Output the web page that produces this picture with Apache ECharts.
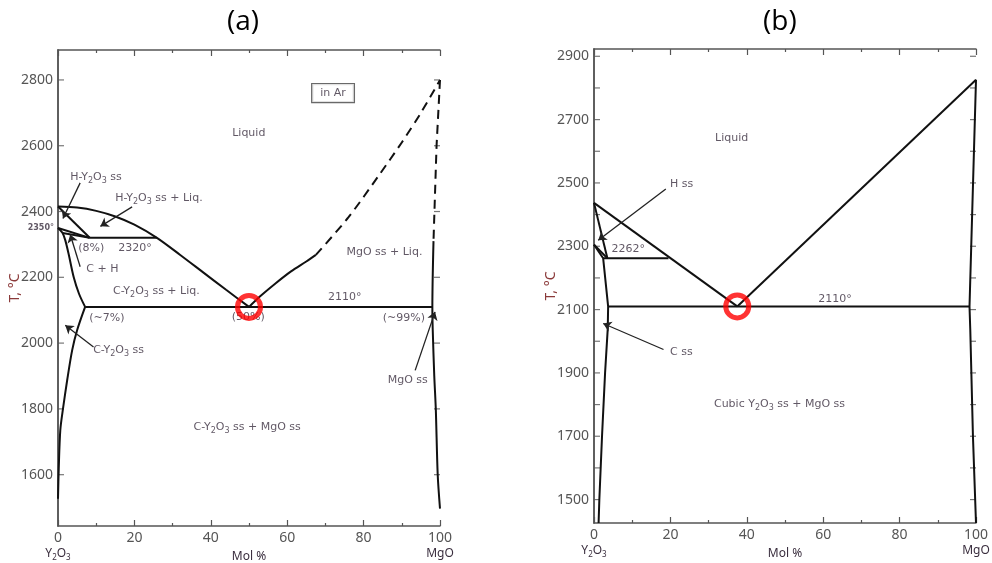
<!DOCTYPE html>
<html><head><meta charset="utf-8">
<script src="https://cdn.jsdelivr.net/npm/echarts@6/dist/echarts.min.js"></script>
<style>html,body{margin:0;padding:0;background:#fff}#c{width:992px;height:563px}</style>
</head><body><div id="c"></div>
<script>
// ---------- data: panel (a) ----------
const aYLabels = [1600,1800,2000,2200,2400,2600,2800];
const aYRange = [1444, 2891];
const aLiqLeft = [[0,2415],[5,2412],[10,2402],[15,2385],[20,2360],[25.9,2320],[32,2268],[38,2215],[44,2162],[50,2110]];
const aLiqRightSolid = [[50,2110],[53,2143],[57,2182],[61,2218],[65,2248],[67.5,2268]];
const aLiqRightDashed = [[67.5,2268],[76,2382],[84,2510],[90,2610],[95,2700],[100,2800]];
const aMgODashed = [[100,2800],[99.1,2600],[98.6,2420],[98.3,2310]];
const aMgOSolid = [[98.3,2310],[98.0,2110],[98.1,2040],[98.5,1900],[98.9,1800],[99.4,1600],[100,1497]];
const aHSolvus = [[0,2415],[8.3,2320]];
const aLine2320 = [[8.3,2320],[25.9,2320]];
const aCHUpper = [[0,2350],[8.3,2320]];
const aCHLower = [[1.2,2335],[8.3,2320]];
const aCLiq = [[0,2350],[1.2,2335],[1.9,2313],[2.8,2270],[4.1,2201],[5.5,2150],[7.1,2110]];
const aLine2110 = [[7.1,2110],[98.0,2110]];
const aCSolvus = [[7.1,2110],[5,2039],[3.7,1978],[2.4,1887],[1.3,1800],[0.6,1735],[0.2,1620],[0,1527]];
const aArrows = [
  [[5.8,2487],[1.3,2379]],
  [[19.4,2414],[11.1,2355]],
  [[5.8,2232],[3.2,2330]],
  [[9.3,1988],[1.9,2054]],
  [[93.5,1917],[98.7,2095]]
];
const aNoteText = ['Liquid','H-Y{s|2}O{s|3} ss','H-Y{s|2}O{s|3} ss + Liq.','(8%)','2320°','C + H',
  'C-Y{s|2}O{s|3} ss + Liq.','(~7%)','(50%)','2110°','(~99%)','MgO ss + Liq.','C-Y{s|2}O{s|3} ss','MgO ss',
  'C-Y{s|2}O{s|3} ss + MgO ss'];
const aNoteAt = [[45.6,2639],[3.2,2505],[15,2441],[5.3,2289],[15.8,2289],[7.4,2225],
  [14.4,2158],[8.2,2077],[45.5,2078],[70.7,2139],[85,2075],[75.5,2277],[9.2,1978],[86.3,1887],
  [35.5,1745]];
const aSideNote = {text:'2350°', at:[0,2350]};
const aBoxNote = {text:'in Ar', at:[72,2760]};
const aEutecticPoint = [50,2110];

// ---------- data: panel (b) ----------
const bYLabels = [1500,1700,1900,2100,2300,2500,2700,2900];
const bYTicks = [1500,1600,1700,1800,1900,2000,2100,2200,2300,2400,2500,2600,2700,2800,2900];
const bYRange = [1426, 2923];
const bLiqLeft = [[0,2437],[37.5,2110]];
const bLiqRight = [[37.5,2110],[100,2826]];
const bMgO = [[100,2826],[98.3,2110],[98.5,2037],[99.2,1700],[100,1426]];
const bHSolvus = [[0,2437],[3.5,2262]];
const bLine2262 = [[2.4,2262],[19.5,2262]];
const bCHUpper = [[0,2305],[3.5,2262]];
const bCSolvus = [[0,2305],[2.4,2262],[3.7,2110],[3.6,2040],[2.9,1900],[2.1,1700],[1.4,1500],[1.2,1426]];
const bLine2110 = [[3.7,2110],[98.3,2110]];
const bArrows = [
  [[18.8,2481],[1.1,2319]],
  [[18.2,1974],[2.4,2056]]
];
const bNoteText = ['Liquid','H ss','2262°','C ss','2110°','Cubic Y{s|2}O{s|3} ss + MgO ss'];
const bNoteAt = [[31.7,2643],[19.9,2495],[4.6,2290],[19.9,1965],[58.7,2134],[31.4,1800]];
const bEutecticPoint = [37.5,2110];

const xTickLabels = [0,20,40,60,80,100];
const xEdges = [0, 100];

// ---------- styles ----------
const AXIS_COLOR = '#555';
const TXT = '#3a2e3e';
const richSub = {s:{fontSize:8, padding:[7,0,0,0], color:TXT, fontFamily:'DejaVu Sans'}};

function xAxes(gridIndex){
  const base = {gridIndex, type:'value', min:0, max:100, interval:20,
    axisLine:{show:true, lineStyle:{color:AXIS_COLOR, width:1.5}},
    axisTick:{show:true, inside:true, length:6, lineStyle:{color:AXIS_COLOR, width:1.2}},
    minorTick:{show:true, splitNumber:2, length:3, lineStyle:{color:AXIS_COLOR, width:1.2}},
    splitLine:{show:false}, minorSplitLine:{show:false}};
  return [
    Object.assign({}, base, {position:'bottom', name:'Mol %', nameLocation:'middle', nameGap:25,
      nameMoveOverlap:false,
      nameTextStyle:{fontSize:12, color:TXT, fontFamily:'Noto Sans'},
      axisLabel:{margin:4, customValues:xTickLabels, formatter:function(v){
        if(v===0) return '{v|0}\n{n|Y}{s|2}{n|O}{s|3}';
        if(v===100) return '{v|100}\n{n|MgO}';
        return '{v|'+v+'}';
      }, rich:{v:{fontSize:14, color:'#555', fontFamily:'Noto Sans', lineHeight:16},
               n:{fontSize:12, color:TXT, fontFamily:'Noto Sans', lineHeight:16},
               s:{fontSize:8, color:TXT, fontFamily:'Noto Sans', padding:[7,0,0,0]}}}}),
    Object.assign({}, base, {position:'top', axisLabel:{show:false}})
  ];
}
function yAxes(gridIndex, range, labels){
  const base = {gridIndex, type:'value', min:range[0], max:range[1],
    axisLine:{show:true, lineStyle:{color:AXIS_COLOR, width:1.5}},
    axisTick:{show:false},
    splitLine:{show:false}};
  return [
    Object.assign({}, base, {position:'left', name:'T, °C', nameLocation:'middle', nameGap:36,
      nameMoveOverlap:false,
      nameTextStyle:{fontSize:14, color:'#8b3a3a', fontFamily:'Noto Sans'},
      axisLabel:{show:true, margin:5, customValues:labels, fontSize:14, color:'#555', fontFamily:'Noto Sans',
        formatter:function(v){return String(v);}}}),
    Object.assign({}, base, {position:'right', axisLabel:{show:false, customValues:labels}})
  ];
}
// inward y ticks drawn as tiny marks at both plot edges
function yTicks(xi, ticks){
  const data = [];
  ticks.forEach(function(v){ data.push({value:[xEdges[0], v], symbolOffset:[3,0]}); data.push({value:[xEdges[1], v], symbolOffset:[-3,0]}); });
  return {type:'scatter', xAxisIndex:xi, yAxisIndex:xi, data:data, symbol:'rect', symbolSize:[6,1.2],
    silent:true, clip:false, z:1, itemStyle:{color:AXIS_COLOR}};
}
function curve(xi, data, opts){
  opts = opts || {};
  return {type:'line', xAxisIndex:xi, yAxisIndex:xi, data:data, symbol:'none', silent:true,
    smooth: opts.smooth || false, clip:false, z:2,
    lineStyle:{color:'#111', width:2, type: opts.dashed ? [9,6] : 'solid'}};
}
function arrows(xi, list){
  return {type:'lines', coordinateSystem:'cartesian2d', xAxisIndex:xi, yAxisIndex:xi, silent:true, z:3,
    symbol:['none','arrow'], symbolSize:8,
    lineStyle:{color:'#222', width:1.3, opacity:1},
    data:list.map(function(a){return {coords:a};})};
}
function notes(xi, texts, at){
  return {type:'scatter', xAxisIndex:xi, yAxisIndex:xi, symbolSize:0, silent:true, clip:false, z:4,
    data: texts.map(function(t,i){return {value:at[i], name:t};}),
    label:{show:true, position:'right', distance:0, formatter:function(p){return p.name;},
      fontFamily:'DejaVu Sans', fontSize:11, color:TXT, rich:richSub}};
}
function circle(xi, pt){
  return {type:'scatter', xAxisIndex:xi, yAxisIndex:xi, data:[pt], symbol:'circle', symbolSize:23, silent:true, z:10,
    itemStyle:{color:'rgba(0,0,0,0)', borderColor:'#ff0000', borderWidth:5}};
}

const chart = echarts.init(document.getElementById('c'), null, {renderer:'canvas'});
chart.setOption({
  animation:false,
  backgroundColor:'#fff',
  grid:[
    {left:58, top:50, width:382, height:476, containLabel:false, outerBoundsMode:'none'},
    {left:594, top:49, width:382, height:474, containLabel:false, outerBoundsMode:'none'}
  ],
  xAxis: xAxes(0).concat(xAxes(1)),
  yAxis: yAxes(0, aYRange, aYLabels).concat(yAxes(1, bYRange, bYLabels)),
  graphic:[
    {type:'text', left:227, top:8, style:{text:'(a)', font:'28px "Open Sans"', fill:'#000'}},
    {type:'text', left:763, top:8, style:{text:'(b)', font:'28px "Open Sans"', fill:'#000'}}
  ],
  series:[
    yTicks(0, aYLabels),
    curve(0, aLiqLeft, {smooth:0.3}),
    curve(0, aLiqRightSolid, {smooth:0.3}),
    curve(0, aLiqRightDashed, {smooth:0.3, dashed:true}),
    curve(0, aMgODashed, {dashed:true}),
    curve(0, aMgOSolid, {smooth:0.3}),
    curve(0, aHSolvus),
    curve(0, aLine2320),
    curve(0, aCHUpper),
    curve(0, aCHLower),
    curve(0, aCLiq, {smooth:0.3}),
    curve(0, aLine2110),
    curve(0, aCSolvus, {smooth:0.3}),
    arrows(0, aArrows),
    notes(0, aNoteText, aNoteAt),
    {type:'scatter', xAxisIndex:0, yAxisIndex:0, symbolSize:0, silent:true, clip:false, z:4,
      data:[{value:aSideNote.at, name:aSideNote.text}],
      label:{show:true, position:'left', distance:4, formatter:function(p){return p.name;},
        fontFamily:'DejaVu Sans', fontSize:8, fontWeight:'bold', color:TXT}},
    {type:'scatter', xAxisIndex:0, yAxisIndex:0, symbolSize:0, silent:true, clip:false, z:4,
      data:[{value:aBoxNote.at, name:aBoxNote.text}],
      label:{show:true, position:'inside', formatter:function(p){return p.name;},
        fontFamily:'DejaVu Sans', fontSize:11, color:TXT, borderColor:'#444', borderWidth:1.2, padding:[4,8,3,8], backgroundColor:'#fff'}},
    circle(0, aEutecticPoint),
    yTicks(2, bYTicks),
    curve(2, bLiqLeft),
    curve(2, bLiqRight),
    curve(2, bMgO),
    curve(2, bHSolvus),
    curve(2, bLine2262),
    curve(2, bCHUpper),
    curve(2, bCSolvus),
    curve(2, bLine2110),
    arrows(2, bArrows),
    notes(2, bNoteText, bNoteAt),
    circle(2, bEutecticPoint)
  ]
});
</script></body></html>
